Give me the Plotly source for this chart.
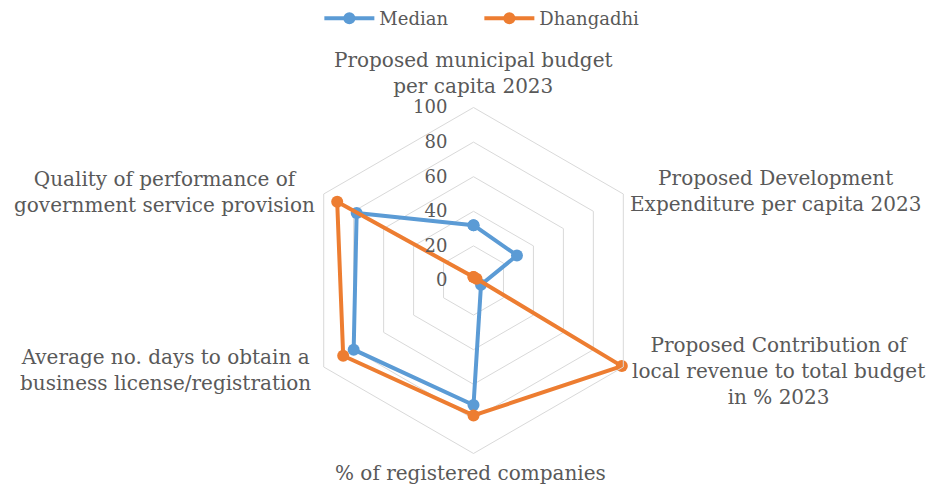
import plotly.graph_objects as go

categories = [
    "Proposed municipal budget per capita 2023",
    "Proposed Development Expenditure per capita 2023",
    "Proposed Contribution of local revenue to total budget in % 2023",
    "% of registered companies",
    "Average no. days to obtain a business license/registration",
    "Quality of performance of government service provision",
]
label_text = [
    "Proposed municipal budget<br>per capita 2023",
    "Proposed Development<br>Expenditure per capita 2023",
    "Proposed Contribution of<br>local revenue to total budget<br>in % 2023",
    "% of registered companies",
    "Average no. days to obtain a<br>business license/registration",
    "Quality of performance of<br>government service provision",
]
median_vals = [32, 29, 5, 72, 80, 78]
dhangadhi_vals = [2, 2, 99, 78, 87, 91]
radial_ticks = [0, 20, 40, 60, 80, 100]

FONT = "DejaVu Serif"
GRAY = "#595959"

fig = go.Figure()
for name, vals, color in [("Median", median_vals, "#5B9BD5"),
                          ("Dhangadhi", dhangadhi_vals, "#ED7D31")]:
    fig.add_trace(go.Scatterpolar(
        r=vals + vals[:1], theta=categories + categories[:1], name=name,
        mode="lines+markers",
        line=dict(color=color, width=4),
        marker=dict(color=color, size=12),
    ))

pad = "<span style='color:rgba(0,0,0,0)'>00</span>"
fig.update_layout(
    width=929, height=492,
    margin=dict(l=0, r=0, t=0, b=0, autoexpand=False),
    paper_bgcolor="white",
    font=dict(family=FONT, color=GRAY, size=18),
    showlegend=True,
    legend=dict(orientation="h", x=0.516, xanchor="center", y=1.0, yanchor="top",
                font=dict(size=18, color=GRAY), itemwidth=50,
                entrywidth=95),
    polar=dict(
        domain=dict(x=[0.3235, 0.6959], y=[0.0783, 0.7815]),
        bgcolor="white",
        gridshape="linear",
        angularaxis=dict(rotation=90, direction="clockwise", showgrid=False,
                         showticklabels=False, ticks="", linecolor="#d9d9d9",
                         showline=True, linewidth=1),
        radialaxis=dict(range=[0, 100], tickvals=radial_ticks,
                        ticktext=[f"{v}{pad}" for v in radial_ticks], angle=90,
                        tickangle=90, showline=False, gridcolor="#d9d9d9",
                        gridwidth=1, ticks="", side="counterclockwise",
                        tickfont=dict(size=18, color=GRAY, family=FONT)),
    ),
)

label_pos = [
    (474, 73),
    (775, 191),
    (778, 371),
    (470, 473),
    (165, 370),
    (164, 192),
]
for txt, (px, py) in zip(label_text, label_pos):
    fig.add_annotation(text=txt, x=px / 929, y=1 - py / 492, xref="paper", yref="paper",
                       showarrow=False, xanchor="center", yanchor="middle", align="center",
                       font=dict(size=20, color=GRAY, family=FONT))

fig.write_html("out.html", post_script="document.body.style.margin='0';",
               config={"displayModeBar": False})
